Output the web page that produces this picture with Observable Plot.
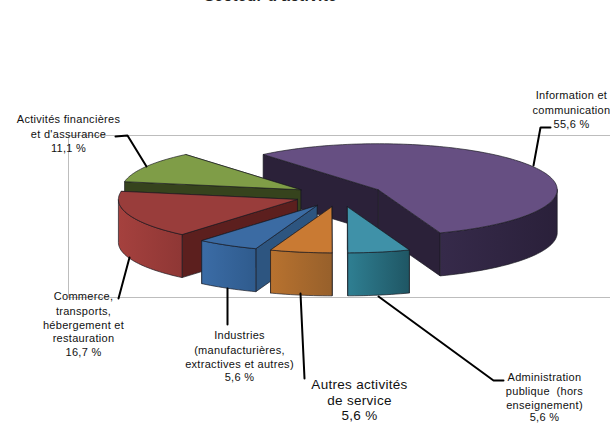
<!DOCTYPE html>
<html>
<head>
<meta charset="utf-8">
<script src="https://cdn.jsdelivr.net/npm/d3@7"></script>
<script src="https://cdn.jsdelivr.net/npm/@observablehq/plot@0.6"></script>
<style>
html,body{margin:0;padding:0;background:#fff}
svg{display:block;letter-spacing:.3px}
</style>
</head>
<body>
<div id="chart"></div>
<script>
// ---- data ----
const sectors = ["Information et communication","Administration publique (hors enseignement)","Autres activités de service","Industries (manufacturières, extractives et autres)","Commerce, transports, hébergement et restauration","Activités financières et d'assurance"];
const shares = [55.6,5.6,5.6,5.6,16.7,11.1];

// ---- styles ----
const topColors  = ["#664f82","#3f91a8","#c97a33","#3b6ba3","#993d3b","#7f9d47"];
const wallColors = ["#2b2139","#1f5563","#8f5a28","#2d5580","#5c1f1e","#36431d"];
const rimStart   = ["#2a203a","#1f5664","#97602b","#2f5b8d","#8f3735","#36431d"]; // colour on the clockwise-first edge
const rimEnd     = ["#362a4a","#2f7f92","#b8722f","#3b6ca6","#a5413e","#36431d"];

// ---- pie geometry ----
const firstAngle = -40, explode = 0.25, cx = 339, cy = 195, rx = 179, ry = 46, depth = 43;
const drawOrder = [0,5,4,3,2,1]; // back to front

// ---- label layout ----
const labelLines = [
  ["Information et","communication","55,6 %"],
  ["Administration","publique  (hors","enseignement)","5,6 %"],
  ["Autres activités","de service","5,6 %"],
  ["Industries","(manufacturières,","extractives et autres)","5,6 %"],
  ["Commerce,","transports,","hébergement et","restauration","16,7 %"],
  ["Activités financières","et d'assurance","11,1 %"]
];
const labelX  = [571,544,359,239,83,68];
const labelY  = [[95,110,124],[377,391,405,417],[384,400,415.5],[335,350,364,377],[296,311,325,338,352],[119,134,148]];
const labelSize = [11,11,13.5,11,11,11];
const leaders = [
  [[533,165],[540,127],[550,127]],
  [[378,296],[493,380],[503,380]],
  [[300,293],[304,378]],
  [[227,288],[227,324]],
  [[129,257],[118,298]],
  [[146,166],[127,135],[115,136]]
];
const frame = [[[68,135],[610,135]],[[68,297],[610,297]],[[68,135],[68,297]]];

// ---- build the slices from the shares ----
const total = d3.sum(shares);
const rad = a => a * Math.PI / 180;
let run = firstAngle;
const slices = shares.map((v,i)=>{
  const a0 = run, a1 = run + v / total * 360; run = a1;
  const mid = rad((a0+a1)/2);
  return {i,a0,a1,ox:cx+explode*rx*Math.sin(mid),oy:cy-explode*ry*Math.cos(mid)};
});
const pt = (s,a,dy=0)=>[s.ox+rx*Math.sin(rad(a)), s.oy-ry*Math.cos(rad(a))+dy];
const poly = (pts,opts)=>Plot.line(pts,{x:d=>d[0],y:d=>d[1],curve:"linear",...opts});
const outline = {stroke:"#1a1a22",strokeWidth:0.8,strokeOpacity:0.85,strokeLinejoin:"round"};

const marks = [];
// rim gradients
marks.push(()=>{
  const defs=d3.create("svg:defs");
  shares.forEach((_,i)=>{
    const g=defs.append("linearGradient").attr("id","rim"+i).attr("x1",1).attr("x2",0).attr("y1",0).attr("y2",0);
    g.append("stop").attr("offset",0).attr("stop-color",rimStart[i]);
    g.append("stop").attr("offset",1).attr("stop-color",rimEnd[i]);
  });
  return defs.node();
});
frame.forEach(f=>marks.push(poly(f,{stroke:"#bdbdbd",strokeWidth:1})));

drawOrder.map(i=>slices[i]).forEach(s=>{
  const ap0 = [s.ox,s.oy], ap1=[s.ox,s.oy+depth];
  // cut faces
  for (const a of [s.a1,s.a0]) {
    const p=pt(s,a), q=pt(s,a,depth);
    marks.push(poly([ap0,p,q,ap1,ap0],{fill:wallColors[s.i],...outline}));
  }
  // rim, front half only
  const lo=Math.max(s.a0,90), hi=Math.min(s.a1,270);
  if (hi>lo){
    const as=d3.range(lo,hi,1.5).concat([hi]);
    const top=as.map(a=>pt(s,a));
    const bot=as.map(a=>pt(s,a,depth)).reverse();
    marks.push(poly([...top,...bot,top[0]],{...outline,fill:`url(#rim${s.i})`}));
  }
  // top face
  const arc=d3.range(s.a0,s.a1,1.5).concat([s.a1]).map(a=>pt(s,a));
  marks.push(poly([ap0,...arc,ap0],{fill:topColors[s.i],...outline}));
});

leaders.forEach(l=>marks.push(poly(l,{stroke:"#000",strokeWidth:2,strokeLinejoin:"miter"})));

labelLines.forEach((lines,i)=>{
  marks.push(Plot.text(lines,{
    x:()=>labelX[i],
    y:(d,j)=>labelY[i][j],
    text:d=>d,
    fontSize:labelSize[i],
    fill:"#111",
    fontFamily:"Liberation Sans, Arial, sans-serif",
    textAnchor:"middle",
    lineAnchor:"middle"
  }));
});
marks.push(Plot.text(["Secteur d'activité"],{x:()=>270,y:()=>-4.5,text:d=>d,fontSize:15.5,fontWeight:"bold",fill:"#222",fontFamily:"Liberation Sans, Arial, sans-serif",lineAnchor:"middle"}));

const chart = Plot.plot({
  width:610,height:423,margin:0,
  x:{domain:[0,610],range:[0,610],axis:null},
  y:{domain:[0,423],range:[0,423],axis:null},
  style:{background:"#fff"},
  marks
});
document.getElementById("chart").appendChild(chart);
</script>
</body>
</html>
